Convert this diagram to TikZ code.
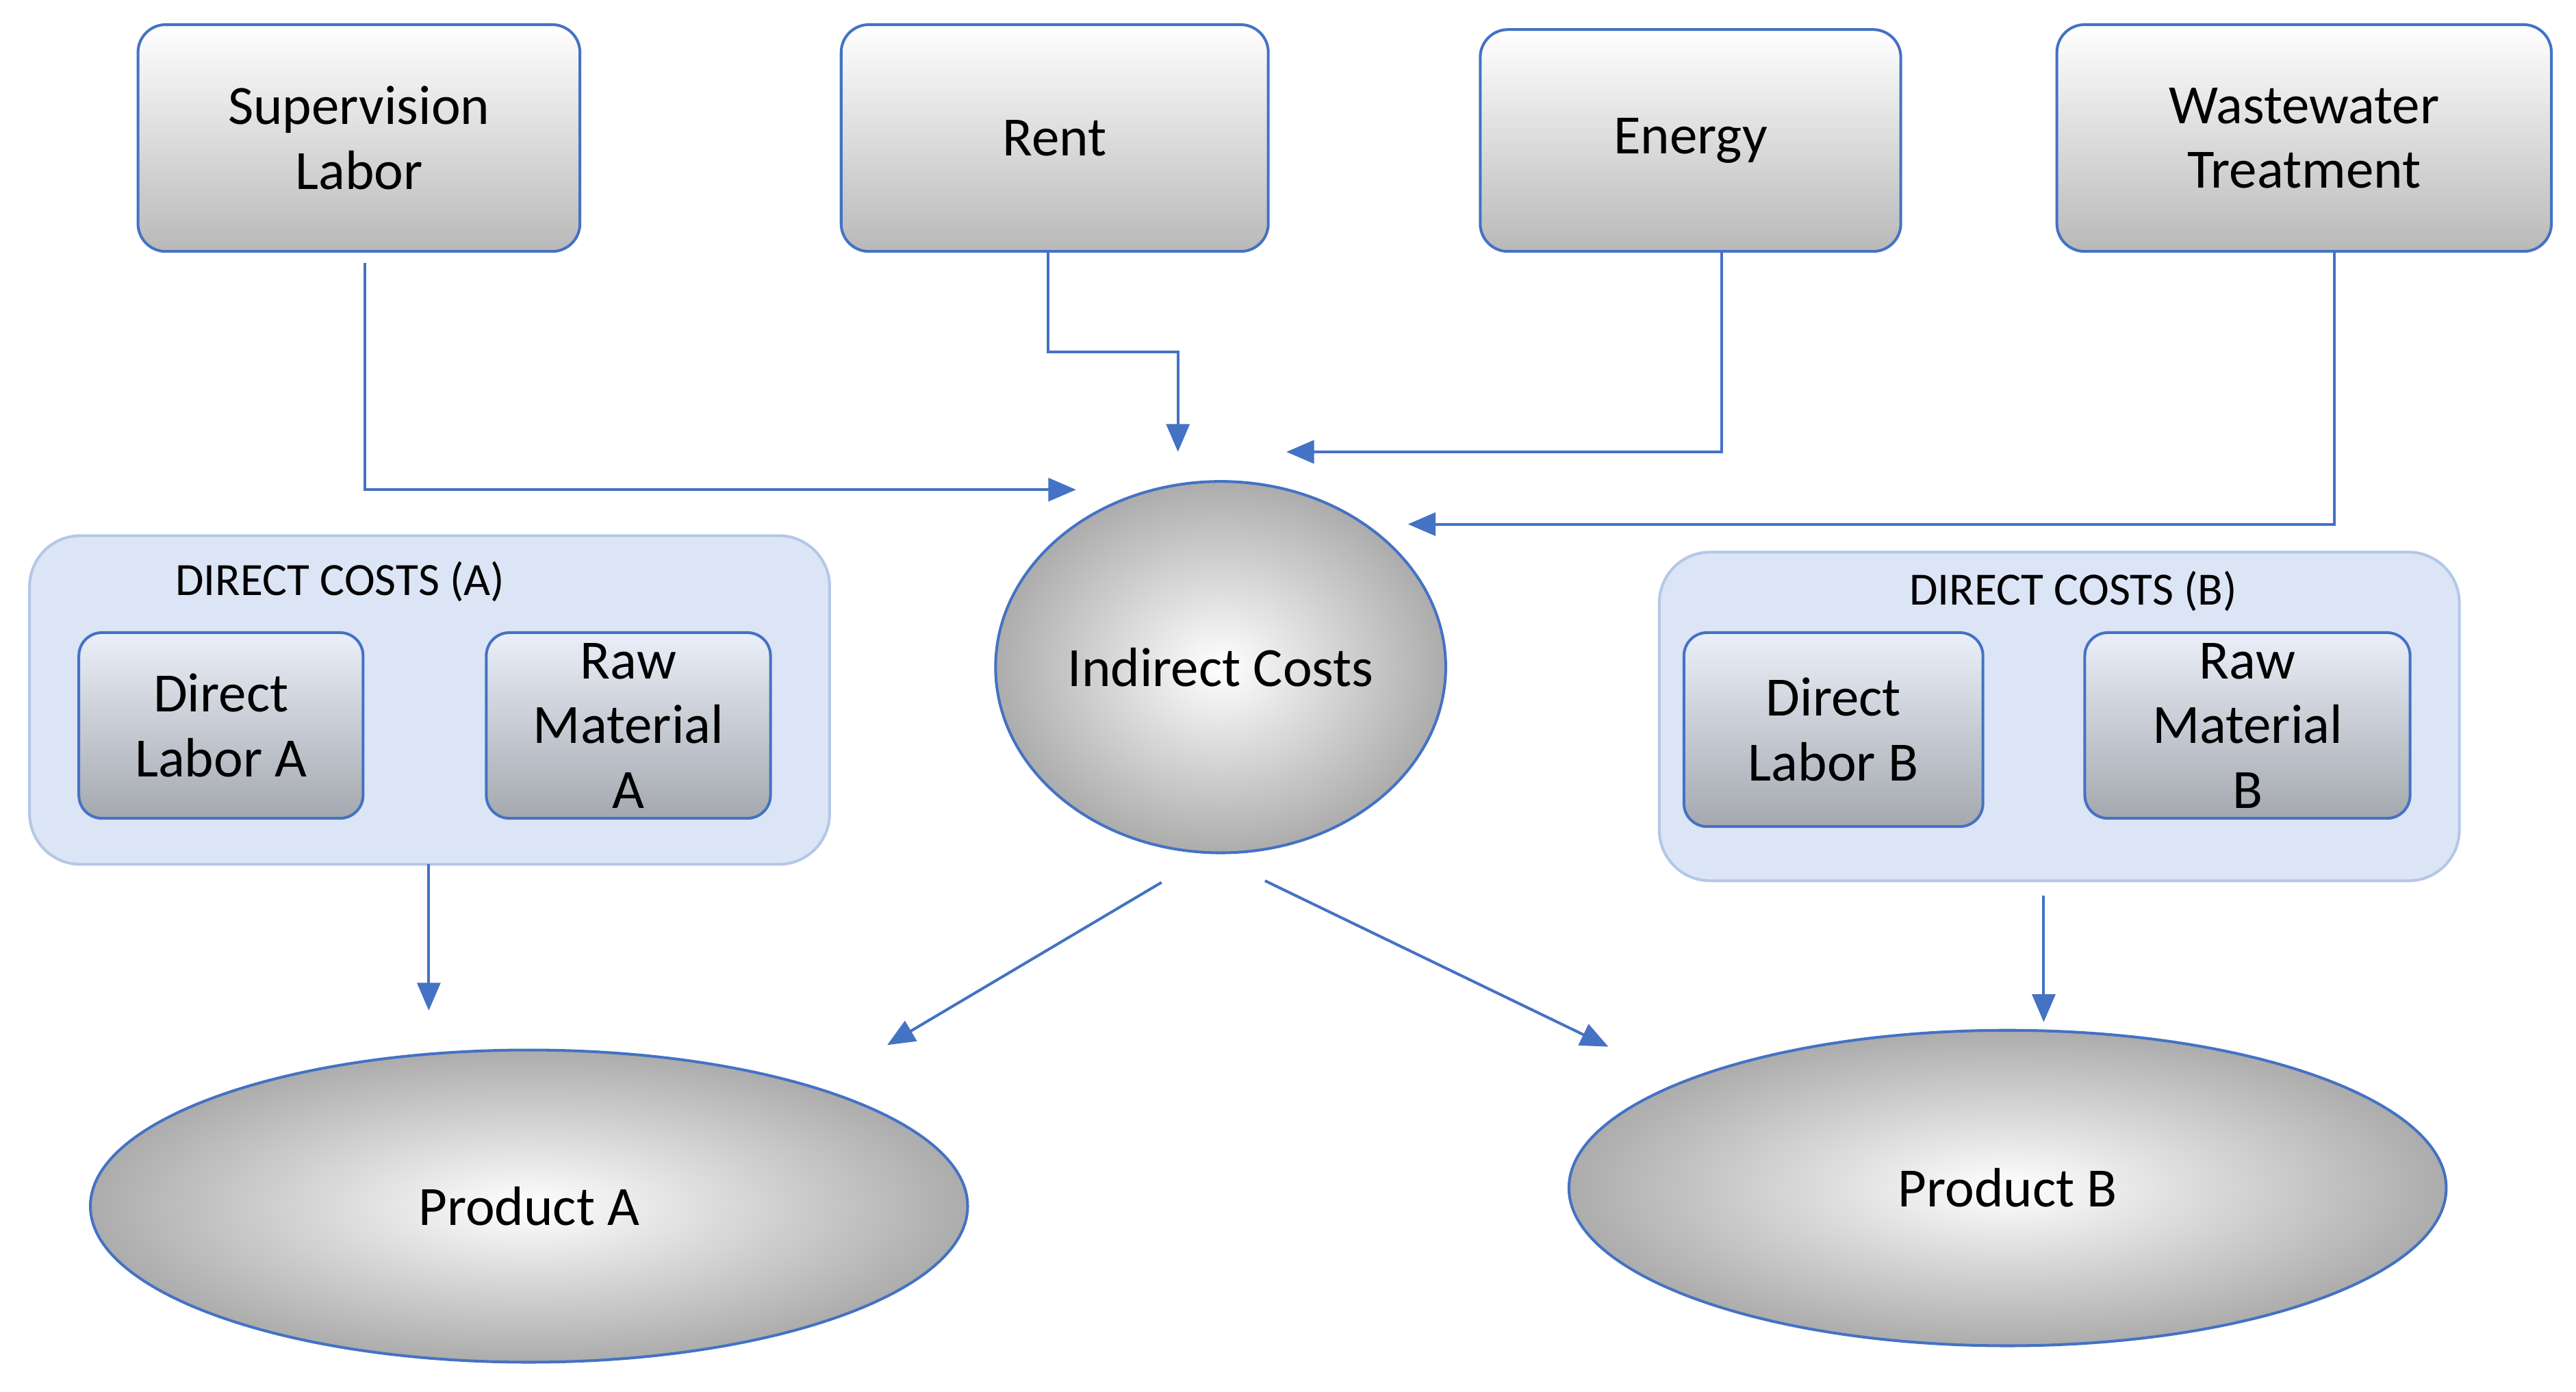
\documentclass[tikz,border=0pt]{standalone}
\usepackage{fontspec}
\setmainfont{Carlito}
\usetikzlibrary{shapes.geometric,arrows.meta}
\definecolor{lnblue}{HTML}{4472C4}
\definecolor{boxblue}{HTML}{DCE5F5}
\definecolor{boxedge}{HTML}{B4C7E7}
\tikzset{
 top/.style={draw=lnblue,line width=1.2pt,rounded corners=12pt,top color=white,bottom color=gray!55,align=center,font=\fontsize{24}{28}\selectfont},
 inner/.style={draw=lnblue,line width=1.2pt,rounded corners=10pt,top color=boxblue!60,bottom color=gray!60!boxblue,align=center,font=\fontsize{24}{28}\selectfont},
 grp/.style={draw=boxedge,line width=1.2pt,rounded corners=22pt,fill=boxblue},
 ell/.style={ellipse,draw=lnblue,line width=1.2pt,inner sep=0pt,inner color=white,outer color=gray!65,font=\fontsize{24}{28}\selectfont},
 con/.style={draw=lnblue,line width=1.2pt,-{Triangle[length=12pt,width=10pt]}},
 grplbl/.style={font=\fontsize{20}{24}\selectfont}
}
\begin{document}
\begin{tikzpicture}[x=0.025cm,y=-0.025cm]
\useasboundingbox (0,0) rectangle (1568,847);
% groups
\draw[grp] (18,326) rectangle (505,526);
\node[grplbl] (gla) at (207,354) {DIRECT COSTS (A)};
\draw[grp] (1010,336) rectangle (1497,536);
\node[grplbl] (glb) at (1262,360) {DIRECT COSTS (B)};
% top boxes
\node[top,minimum width=269*0.025cm,minimum height=138*0.025cm] (sup) at (218.5,84) {Supervision\\Labor};
\node[top,minimum width=260*0.025cm,minimum height=138*0.025cm] (rent) at (642,84) {Rent};
\node[top,minimum width=256*0.025cm,minimum height=135*0.025cm] (en) at (1029,85.5) {Energy};
\node[top,minimum width=301*0.025cm,minimum height=138*0.025cm] (ww) at (1402.5,84) {Wastewater\\Treatment};
% inner boxes
\node[inner,minimum width=173*0.025cm,minimum height=113*0.025cm] (dla) at (134.5,441.5) {Direct\\Labor A};
\node[inner,minimum width=173*0.025cm,minimum height=113*0.025cm] (rma) at (382.5,441.5) {Raw\\Material\\A};
\node[inner,minimum width=182*0.025cm,minimum height=118*0.025cm] (dlb) at (1116,444) {Direct\\Labor B};
\node[inner,minimum width=198*0.025cm,minimum height=113*0.025cm] (rmb) at (1368,441.5) {Raw\\Material\\B};
% ellipses
\node[ell,minimum width=274*0.025cm,minimum height=226*0.025cm] (ind) at (743,406) {Indirect Costs};
\node[ell,minimum width=534*0.025cm,minimum height=190*0.025cm] (pa) at (322,734) {Product A};
\node[ell,minimum width=534*0.025cm,minimum height=192*0.025cm] (pb) at (1222,723) {Product B};
% coordinates
\coordinate (s0) at (222,160); \coordinate (s1) at (655,298);
\coordinate (r0) at (638,153); \coordinate (r1) at (717,275);
\coordinate (e0) at (1048,153); \coordinate (e1) at (783,275);
\coordinate (w0) at (1421,153); \coordinate (w1) at (857,319);
\coordinate (a0) at (261,526); \coordinate (a1) at (261,615);
\coordinate (i0) at (707,537); \coordinate (i1) at (540,636);
\coordinate (j0) at (770,536); \coordinate (j1) at (979,637);
\coordinate (b0) at (1244,545); \coordinate (b1) at (1244,622);
\draw[con] (s0) |- (s1);
\draw[con] (r0) -- (638,214) -| (r1);
\draw[con] (e0) |- (e1);
\draw[con] (w0) |- (w1);
\draw[con] (a0) -- (a1);
\draw[con] (i0) -- (i1);
\draw[con] (j0) -- (j1);
\draw[con] (b0) -- (b1);
\end{tikzpicture}
\end{document}
